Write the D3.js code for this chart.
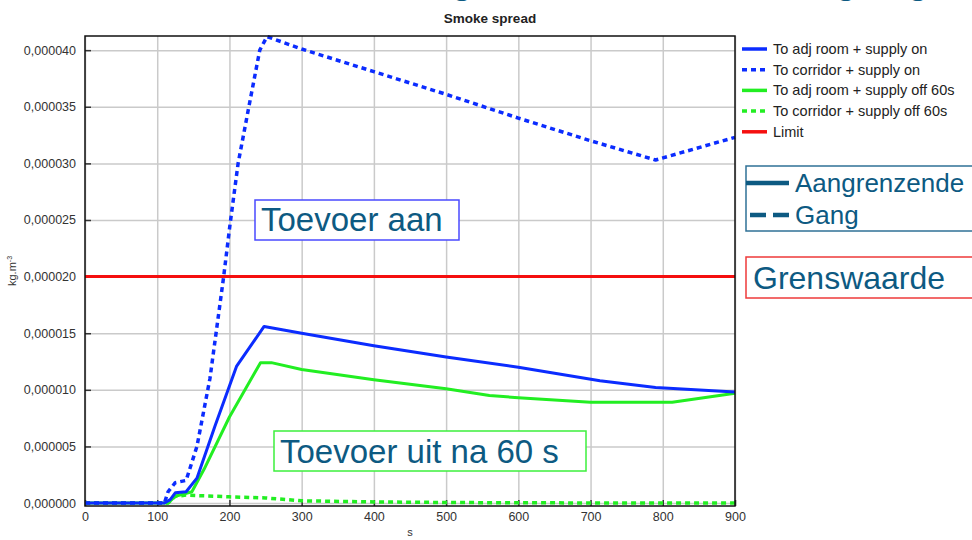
<!DOCTYPE html>
<html>
<head>
<meta charset="utf-8">
<script src="https://cdn.jsdelivr.net/npm/d3@7"></script>
<style>
  body { margin: 0; background: #fff; }
  svg { display: block; font-family: "Liberation Sans", Arial, sans-serif; }
</style>
</head>
<body>
<svg id="chart" width="972" height="540"></svg>
<script>
// values in kg.m-3 x 1e-6, time in s
var adjOn = [[0,0],[110,0],[118,0.3],[125,0.9],[140,1.0],[155,2.2],[180,6.8],[210,12.1],[248,15.6],[300,15.0],[400,13.9],[500,12.9],[600,12.0],[713,10.8],[790,10.2],[900,9.8]];
var corrOn = [[0,0],[110,0],[115,1.0],[125,1.8],[140,2.0],[155,5.0],[173,11.0],[192,20.0],[201,24.7],[212,30.0],[226,34.7],[242,40.0],[252,41.2],[300,40.1],[400,38.1],[500,36.1],[600,34.0],[700,32.0],[790,30.3],[900,32.3]];
var adjOff = [[0,0],[115,0],[125,0.6],[148,1.0],[165,3.0],[200,7.6],[243,12.4],[258,12.4],[300,11.8],[400,10.9],[500,10.1],[560,9.5],[600,9.3],[700,8.9],[813,8.9],[900,9.7]];
var corrOff = [[0,0],[115,0],[125,0.6],[140,0.7],[200,0.55],[250,0.45],[300,0.2],[400,0.1],[500,0.05],[600,0.02],[900,0]];
var limit = [[0,20],[900,20]];

var xTicks = [0,100,200,300,400,500,600,700,800,900];
var yTicks = [0,5,10,15,20,25,30,35,40];

var legendNames = ["To adj room + supply on","To corridor + supply on","To adj room + supply off 60s","To corridor + supply off 60s","Limit"];

var blue = "#0b2cff", green = "#22ee22", red = "#f50f0f", teal = "#0d5a82";

var svg = d3.select("#chart");
var pLeft = 85, pRight = 735, pTop = 36, pBottom = 506;

var x = d3.scaleLinear().domain([0, 900]).range([pLeft, pRight]);
var y = d3.scaleLinear().domain([-0.26, 41.25]).range([pBottom, pTop]);

var locale = d3.formatLocale({decimal: ",", thousands: ".", grouping: [3], currency: ["", ""]});
var fmt = locale.format(".6f");

// heading cut at the top edge
svg.append("text")
  .attr("y", -7)
  .attr("font-size", "40px")
  .attr("fill", teal)
  .attr("text-anchor", "middle")
  .selectAll("tspan")
  .data([462, 846, 918])
  .enter().append("tspan")
  .attr("x", function(d) { return d; })
  .text("g");

svg.append("text")
  .attr("x", 490).attr("y", 23)
  .attr("text-anchor", "middle")
  .attr("font-weight", "bold")
  .attr("font-size", "13.5px")
  .attr("fill", "#222")
  .text("Smoke spread");

// grid
var gx = svg.append("g").attr("transform", "translate(0," + pBottom + ")")
  .call(d3.axisBottom(x).tickValues(xTicks).tickSize(-(pBottom - pTop)).tickFormat(""));
var gy = svg.append("g").attr("transform", "translate(" + pLeft + ",0)")
  .call(d3.axisLeft(y).tickValues(yTicks).tickSize(-(pRight - pLeft)).tickFormat(""));
[gx, gy].forEach(function(g) {
  g.select(".domain").remove();
  g.selectAll("line").attr("stroke", "#cacaca").attr("stroke-width", 1.5);
});

// dark inner tick marks
var tx = svg.append("g").attr("transform", "translate(0," + pBottom + ")")
  .call(d3.axisBottom(x).tickValues(xTicks).tickSize(-6).tickFormat(""));
var ty = svg.append("g").attr("transform", "translate(" + pLeft + ",0)")
  .call(d3.axisLeft(y).tickValues(yTicks).tickSize(-6).tickFormat(""));
[tx, ty].forEach(function(g) {
  g.select(".domain").remove();
  g.selectAll("line").attr("stroke", "#333").attr("stroke-width", 1.5);
});

// tick labels
var lx = svg.append("g").attr("transform", "translate(0," + pBottom + ")")
  .call(d3.axisBottom(x).tickValues(xTicks).tickSize(0).tickPadding(6));
var ly = svg.append("g").attr("transform", "translate(" + pLeft + ",0)")
  .call(d3.axisLeft(y).tickValues(yTicks).tickSize(0).tickPadding(9)
    .tickFormat(function(d) { return fmt(d * 1e-6); }));
[lx, ly].forEach(function(g) {
  g.select(".domain").remove();
  g.selectAll("text").attr("font-size", "12.5px").attr("fill", "#333")
    .attr("font-family", "Liberation Sans, Arial, sans-serif");
});

// lines
var line = d3.line()
  .x(function(d) { return x(d[0]); })
  .y(function(d) { return y(d[1]); });

var series = [
  {data: corrOff, color: green, dash: "5,4", w: 3.5},
  {data: adjOff, color: green, dash: null, w: 3},
  {data: corrOn, color: blue, dash: "5,4", w: 3.5},
  {data: adjOn, color: blue, dash: null, w: 3},
  {data: limit, color: red, dash: null, w: 3}
];

svg.append("g").selectAll("path")
  .data(series)
  .enter().append("path")
  .attr("d", function(d) { return line(d.data); })
  .attr("fill", "none")
  .attr("stroke", function(d) { return d.color; })
  .attr("stroke-width", function(d) { return d.w; })
  .attr("stroke-dasharray", function(d) { return d.dash; })
  .attr("stroke-linejoin", "round");

// frame
svg.append("rect")
  .attr("x", pLeft).attr("y", pTop)
  .attr("width", pRight - pLeft).attr("height", pBottom - pTop)
  .attr("fill", "none").attr("stroke", "#111").attr("stroke-width", 1.5);

// axis titles
var yl = svg.append("text")
  .attr("transform", "translate(16,271) rotate(-90)")
  .attr("text-anchor", "middle")
  .attr("font-size", "11px")
  .attr("fill", "#333");
yl.append("tspan").text("kg.m");
yl.append("tspan").attr("font-size", "7px").attr("dy", "-4").text("-3");

svg.append("text")
  .attr("x", 410).attr("y", 536)
  .attr("text-anchor", "middle")
  .attr("font-size", "11px")
  .attr("fill", "#333")
  .text("s");

// legend
var legendStyles = [
  {color: blue, dash: null}, {color: blue, dash: "5,4"},
  {color: green, dash: null}, {color: green, dash: "5,4"},
  {color: red, dash: null}
];
var leg = svg.append("g").selectAll("g")
  .data(legendNames)
  .enter().append("g")
  .attr("transform", function(d, i) { return "translate(742," + (49 + i * 20.7) + ")"; });
leg.append("line")
  .attr("x1", 0).attr("x2", 25)
  .attr("stroke", function(d, i) { return legendStyles[i].color; })
  .attr("stroke-width", 3.5)
  .attr("stroke-dasharray", function(d, i) { return legendStyles[i].dash; });
leg.append("text")
  .attr("x", 31).attr("y", 5)
  .attr("font-size", "14.5px")
  .attr("fill", "#222")
  .text(function(d) { return d; });

// annotation boxes
function box(x0, y0, w, h, stroke) {
  svg.append("rect")
    .attr("x", x0).attr("y", y0).attr("width", w).attr("height", h)
    .attr("fill", "#fff").attr("stroke", stroke).attr("stroke-width", 1.5);
}
function label(x0, y0, size, txt) {
  svg.append("text")
    .attr("x", x0).attr("y", y0)
    .attr("font-size", size + "px")
    .attr("fill", teal)
    .text(txt);
}

box(255, 200, 204, 40, "#4a4aff");
label(261, 231, 33, "Toevoer aan");

box(274, 431, 312, 40, "#3cf03c");
label(280, 463, 33, "Toevoer uit na 60 s");

box(746, 166, 240, 65, "#2f7196");
svg.append("line").attr("x1", 746).attr("x2", 789).attr("y1", 183).attr("y2", 183)
  .attr("stroke", teal).attr("stroke-width", 4.5);
svg.append("line").attr("x1", 750).attr("x2", 790).attr("y1", 215).attr("y2", 215)
  .attr("stroke", teal).attr("stroke-width", 4.5).attr("stroke-dasharray", "16,7");
label(795, 192, 26, "Aangrenzende");
label(795, 224, 26, "Gang");

box(746, 257, 240, 41, "#ee3a3a");
label(753, 289, 32, "Grenswaarde");
</script>
</body>
</html>
